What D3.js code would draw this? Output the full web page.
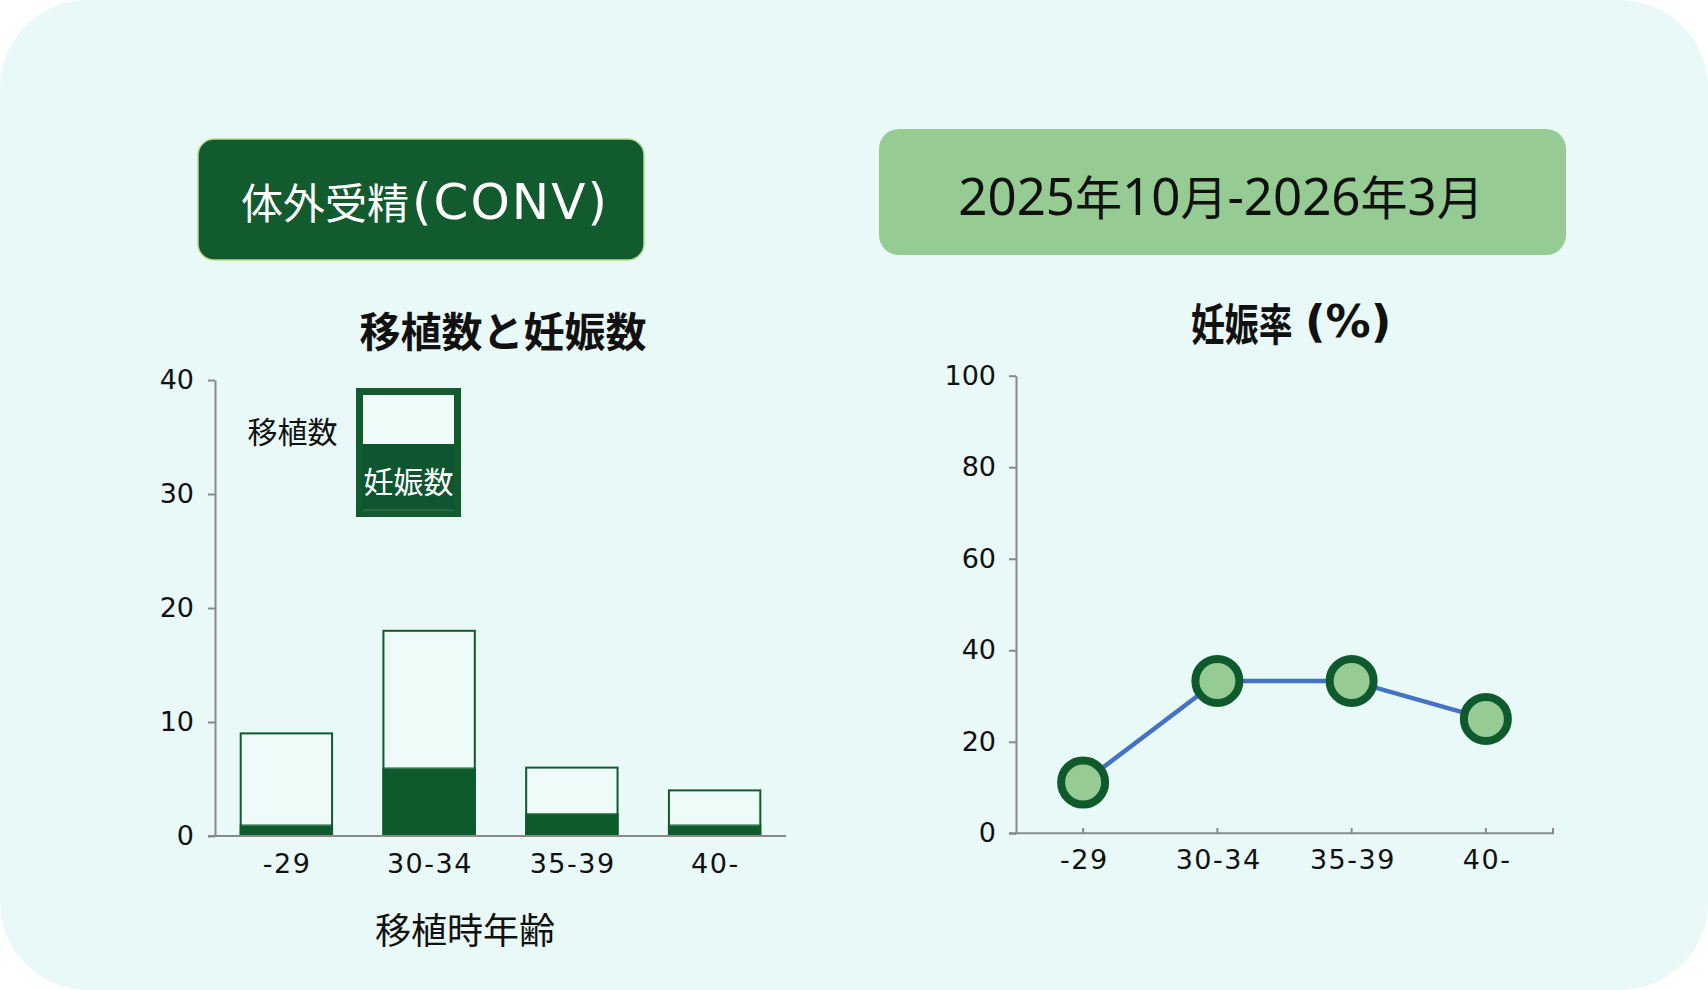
<!DOCTYPE html>
<html>
<head>
<meta charset="utf-8">
<script src="https://cdn.jsdelivr.net/npm/d3@7/dist/d3.min.js"></script>
<style>
  html, body { margin: 0; padding: 0; background: #ffffff; }
  svg { display: block; font-family: "Noto Sans CJK JP", "Noto Sans", sans-serif; }
</style>
</head>
<body>
<svg id="chart" width="1708" height="990"></svg>
<script>
// ---- data ----
const categories = ["-29", "30-34", "35-39", "40-"];
const transfers = [9, 18, 6, 4];          // 移植数
const pregnancies = [1, 6, 2, 1];         // 妊娠数
const rates = [11.1, 33.3, 33.3, 25.0];   // 妊娠率(%)
const barTicks = [0, 10, 20, 30, 40];
const rateTicks = [0, 20, 40, 60, 80, 100];
const methodLabel = "体外受精(CONV)";
const periodLabel = "2025年10月-2026年3月";
const barTitle = "移植数と妊娠数";
const rateTitleMain = "妊娠率";
const rateTitleUnit = "(%)";
const xTitle = "移植時年齢";
const legendLabels = ["移植数", "妊娠数"];

// ---- styles ----
const DARK = "#105A2E";
const LIGHT = "#96CB93";
const BG = "#E9F9F7";
const AXIS = "#8A8A8A";
const LATIN = "'Noto Sans', 'Noto Sans CJK JP', sans-serif";
const WIDE = "'DejaVu Sans', 'Noto Sans', sans-serif";
const CJK = "'Noto Sans CJK JP', sans-serif";

const svg = d3.select("#chart");

// mixed-script text: CJK runs and Latin runs with their own fonts/sizes
function mixedText(parent, x, y, str, o) {
  const t = parent.append("text").attr("x", x).attr("y", y)
    .attr("text-anchor", o.anchor || "start").attr("fill", o.fill || "#111")
    .attr("font-weight", o.weight || "normal");
  const runs = str.match(/[\u3000-\u9fff\uff00-\uffef]+|[^\u3000-\u9fff\uff00-\uffef]+/g);
  runs.forEach((r, i) => {
    const isCjk = /[\u3000-\u9fff\uff00-\uffef]/.test(r);
    const s = t.append("tspan").text(r)
      .style("font-family", isCjk ? CJK : (o.latinFamily || LATIN))
      .attr("font-size", isCjk ? o.cjkSize : o.latinSize)
      .attr("letter-spacing", isCjk ? 0 : (o.latinSpacing || 0));
    if (!isCjk && i > 0 && o.latinDx) s.attr("dx", o.latinDx);
  });
  return t;
}

// background card
svg.append("rect").attr("x", 0).attr("y", 0).attr("width", 1708).attr("height", 990)
  .attr("rx", 88).attr("ry", 88).attr("fill", BG);

// header boxes
svg.append("rect").attr("x", 198).attr("y", 139).attr("width", 446).attr("height", 121)
  .attr("rx", 16).attr("fill", "#125B2F").attr("stroke", "#B9D98C").attr("stroke-width", 1.5);
mixedText(svg, 241, 219, methodLabel, { cjkSize: 42, latinSize: 50, latinSpacing: 2, latinDx: 3,
  latinFamily: WIDE, fill: "#ffffff" });

svg.append("rect").attr("x", 879).attr("y", 129).attr("width", 687).attr("height", 126)
  .attr("rx", 20).attr("fill", LIGHT);
mixedText(svg, 1221, 215, periodLabel, { cjkSize: 47, latinSize: 51, fill: "#111", anchor: "middle" });

// titles
svg.append("text").attr("x", 503).attr("y", 329).attr("text-anchor", "middle")
  .attr("dominant-baseline", "central").attr("font-weight", "bold").attr("font-size", 41)
  .style("font-family", CJK).attr("fill", "#111").text(barTitle);
svg.append("text").attr("transform", "translate(1191,321) scale(0.77,1)")
  .attr("text-anchor", "start").attr("dominant-baseline", "central").style("font-family", CJK)
  .attr("font-weight", "bold").attr("font-size", 44).attr("fill", "#111").text(rateTitleMain);
svg.append("text").attr("x", 1305).attr("y", 321).attr("dominant-baseline", "central")
  .style("font-family", WIDE).attr("font-weight", "bold").attr("font-size", 45)
  .attr("fill", "#111").text(rateTitleUnit);

// ---- bar chart ----
const bx = d3.scaleBand().domain(categories).range([215, 786]).paddingInner(0.36).paddingOuter(0.18);
const by = d3.scaleLinear().domain([0, 40]).range([836, 380]);

const gBar = svg.append("g");
const yAxisBar = d3.axisLeft(by).tickValues(barTicks).tickSize(7).tickPadding(14).tickSizeOuter(0);
const gyb = gBar.append("g").attr("transform", "translate(215,0)").call(yAxisBar);
gyb.select(".domain").attr("stroke", AXIS).attr("stroke-width", 2);
gyb.selectAll(".tick line").attr("stroke", AXIS).attr("stroke-width", 2);
gyb.selectAll(".tick text").attr("font-size", 27).attr("fill", "#111").style("font-family", WIDE);

// bars
const data = categories.map((c, i) => ({ c, t: transfers[i], p: pregnancies[i] }));
gBar.selectAll("rect.tr").data(data).enter().append("rect").attr("class", "tr")
  .attr("x", d => bx(d.c)).attr("width", bx.bandwidth())
  .attr("y", d => by(d.t)).attr("height", d => by(0) - by(d.t))
  .attr("fill", "#EEFBF9").attr("stroke", DARK).attr("stroke-width", 2);
gBar.selectAll("rect.pr").data(data).enter().append("rect").attr("class", "pr")
  .attr("x", d => bx(d.c) - 1).attr("width", bx.bandwidth() + 2)
  .attr("y", d => by(d.p)).attr("height", d => by(0) - by(d.p))
  .attr("fill", "#0D5A2D");
gBar.selectAll("line.pr-top").data(data).enter().append("line").attr("class", "pr-top")
  .attr("x1", d => bx(d.c) + 1).attr("x2", d => bx(d.c) + bx.bandwidth() - 1)
  .attr("y1", d => by(d.p) + 0.5).attr("y2", d => by(d.p) + 0.5)
  .attr("stroke", "#5E9272").attr("stroke-width", 1);

// x axis
const xAxisBar = d3.axisBottom(bx).tickSize(0).tickPadding(18).tickSizeOuter(0);
const gxb = gBar.append("g").attr("transform", "translate(0,836)").call(xAxisBar);
gxb.select(".domain").remove();
gxb.selectAll(".tick text").attr("font-size", 27).attr("fill", "#111")
  .style("font-family", WIDE).attr("letter-spacing", 1.5).attr("dx", 0.75);
gBar.append("line").attr("x1", 208).attr("x2", 786).attr("y1", 836).attr("y2", 836)
  .attr("stroke", AXIS).attr("stroke-width", 2);

svg.append("text").attr("x", 465).attr("y", 928).attr("text-anchor", "middle").style("font-family", CJK)
  .attr("dominant-baseline", "central").attr("font-size", 36).attr("fill", "#111").text(xTitle);

// legend
const gLeg = svg.append("g");
gLeg.append("rect").attr("x", 356).attr("y", 388).attr("width", 105).attr("height", 129).attr("fill", "#125B2F");
gLeg.append("rect").attr("x", 363).attr("y", 395).attr("width", 91).attr("height", 49).attr("fill", "#F0FCFA");
gLeg.append("rect").attr("x", 363).attr("y", 445).attr("width", 91).attr("height", 65).attr("fill", "#0F5530");
gLeg.append("line").attr("x1", 363).attr("x2", 454).attr("y1", 510).attr("y2", 510)
  .attr("stroke", "#3F7B57").attr("stroke-width", 1);
gLeg.append("text").attr("x", 408.5).attr("y", 480).attr("text-anchor", "middle").style("font-family", CJK)
  .attr("dominant-baseline", "central").attr("font-size", 30).attr("fill", "#ffffff").text(legendLabels[1]);
gLeg.append("text").attr("x", 292.5).attr("y", 430).attr("text-anchor", "middle").style("font-family", CJK)
  .attr("dominant-baseline", "central").attr("font-size", 30).attr("fill", "#111").text(legendLabels[0]);

// ---- line chart ----
const lx = d3.scalePoint().domain(categories).range([1016, 1553]).padding(0.5);
const ly = d3.scaleLinear().domain([0, 100]).range([833.3, 375.7]);
const gLine = svg.append("g");

const yAxisLine = d3.axisLeft(ly).tickValues(rateTicks).tickSize(7).tickPadding(13).tickSizeOuter(0);
const gyl = gLine.append("g").attr("transform", "translate(1016,0)").call(yAxisLine);
gyl.select(".domain").attr("stroke", AXIS).attr("stroke-width", 2);
gyl.selectAll(".tick line").attr("stroke", AXIS).attr("stroke-width", 2);
gyl.selectAll(".tick text").attr("font-size", 27).attr("fill", "#111").style("font-family", WIDE);

const xAxisLine = d3.axisBottom(lx).tickSize(0).tickPadding(17).tickSizeOuter(0);
const gxl = gLine.append("g").attr("transform", "translate(0,833.3)").call(xAxisLine);
gxl.select(".domain").remove();
gxl.selectAll(".tick text").attr("font-size", 27).attr("fill", "#111")
  .style("font-family", WIDE).attr("letter-spacing", 1.5).attr("dx", 0.75);
gLine.append("line").attr("x1", 1009).attr("x2", 1554).attr("y1", 833.3).attr("y2", 833.3)
  .attr("stroke", AXIS).attr("stroke-width", 2);
const tickXs = categories.map(c => lx(c)).concat([1553]);
gLine.selectAll("line.xt").data(tickXs).enter().append("line").attr("class", "xt")
  .attr("x1", d => d).attr("x2", d => d).attr("y1", 833.3).attr("y2", 828)
  .attr("stroke", AXIS).attr("stroke-width", 2);

const lineGen = d3.line().x((d, i) => lx(categories[i])).y(d => ly(d));
gLine.append("path").datum(rates).attr("d", lineGen).attr("fill", "none")
  .attr("stroke", "#4472C4").attr("stroke-width", 4.5);
gLine.selectAll("circle").data(rates).enter().append("circle")
  .attr("cx", (d, i) => lx(categories[i])).attr("cy", d => ly(d)).attr("r", 22)
  .attr("fill", LIGHT).attr("stroke", "#0E5A2C").attr("stroke-width", 8);
</script>
</body>
</html>
